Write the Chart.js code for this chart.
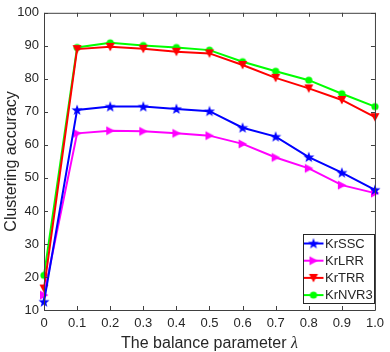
<!DOCTYPE html>
<html>
<head>
<meta charset="utf-8">
<script src="https://cdn.jsdelivr.net/npm/chart.js@4/dist/chart.umd.min.js"></script>
<style>
  html, body { margin: 0; padding: 0; background: #fff; }
  #wrap { width: 390px; height: 352px; }
</style>
</head>
<body>
<div id="wrap"><canvas id="chart" width="390" height="352"></canvas></div>
<script>
var lambdas = [0, 0.1, 0.2, 0.3, 0.4, 0.5, 0.6, 0.7, 0.8, 0.9, 1.0];
var xTickLabels = ['0', '0.1', '0.2', '0.3', '0.4', '0.5', '0.6', '0.7', '0.8', '0.9', '1.0'];
var yTicks = [10, 20, 30, 40, 50, 60, 70, 80, 90, 100];

var krSSC  = [12.5, 70.6, 71.6, 71.6, 70.9, 70.2, 65.2, 62.5, 56.3, 51.6, 46.4];
var krLRR  = [14.5, 63.5, 64.3, 64.1, 63.5, 62.8, 60.3, 56.2, 52.9, 47.8, 45.4];
var krTRR  = [16.5, 89.0, 89.7, 89.1, 88.2, 87.7, 84.2, 80.3, 77.1, 73.6, 68.4];
var krNVR3 = [20.5, 89.5, 90.9, 90.1, 89.5, 88.7, 85.2, 82.3, 79.6, 75.5, 71.6];

var axisColor = '#404040';
var textColor = '#262626';

// marker images (MATLAB style markers)
function makeMarker(kind, color) {
  var c = document.createElement('canvas');
  c.width = 12; c.height = 12;
  var g = c.getContext('2d');
  g.fillStyle = color;
  g.beginPath();
  if (kind === 'star') {
    for (var i = 0; i < 10; i++) {
      var r = i % 2 === 0 ? 5.8 : 2.4;
      var a = -Math.PI / 2 + i * Math.PI / 5;
      var px = 6 + r * Math.cos(a), py = 6.4 + r * Math.sin(a);
      if (i === 0) g.moveTo(px, py); else g.lineTo(px, py);
    }
  } else if (kind === 'right') {
    g.moveTo(2, 1.5); g.lineTo(10.5, 6); g.lineTo(2, 10.5);
  } else if (kind === 'down') {
    g.moveTo(1.5, 2); g.lineTo(10.5, 2); g.lineTo(6, 10.5);
  } else {
    g.arc(6, 6, 3.6, 0, Math.PI * 2);
  }
  g.closePath();
  g.fill();
  return c;
}

var series = [
  { label: 'KrSSC', data: krSSC, color: '#0000ff', marker: makeMarker('star', '#0000ff') },
  { label: 'KrLRR', data: krLRR, color: '#ff00ff', marker: makeMarker('right', '#ff00ff') },
  { label: 'KrTRR', data: krTRR, color: '#ff0000', marker: makeMarker('down', '#ff0000') },
  { label: 'KrNVR3', data: krNVR3, color: '#00ff00', marker: makeMarker('circle', '#00ff00') }
];

var datasets = series.map(function (s) {
  return {
    label: s.label,
    data: lambdas.map(function (x, i) { return { x: x, y: s.data[i] }; }),
    borderColor: s.color,
    backgroundColor: s.color,
    borderWidth: 2,
    pointStyle: s.marker,
    pointRadius: 5,
    tension: 0,
    fill: false,
    clip: false
  };
});

// box, inward ticks, legend, axis titles
var matlabAxes = {
  id: 'matlabAxes',
  afterDraw: function (chart) {
    var ctx = chart.ctx, a = chart.chartArea;
    var xs = chart.scales.x, ys = chart.scales.y;
    ctx.save();
    ctx.strokeStyle = axisColor;
    ctx.lineWidth = 1;
    ctx.beginPath();
    ctx.rect(a.left + 0.5, a.top + 0.5, a.right - a.left, a.bottom - a.top);
    lambdas.forEach(function (v) {
      var px = Math.round(xs.getPixelForValue(v)) + 0.5;
      ctx.moveTo(px, a.bottom); ctx.lineTo(px, a.bottom - 4);
      ctx.moveTo(px, a.top); ctx.lineTo(px, a.top + 4);
    });
    yTicks.forEach(function (v) {
      var py = Math.round(ys.getPixelForValue(v)) + 0.5;
      ctx.moveTo(a.left, py); ctx.lineTo(a.left + 4, py);
      ctx.moveTo(a.right, py); ctx.lineTo(a.right - 4, py);
    });
    ctx.stroke();

    // legend
    var bx = 303.5, by = 234.5, bw = 71, bh = 69;
    ctx.fillStyle = '#fff';
    ctx.fillRect(bx, by, bw, bh);
    ctx.strokeStyle = '#262626';
    ctx.strokeRect(bx, by, bw, bh);
    ctx.font = '13px "Liberation Sans", Arial, sans-serif';
    ctx.textBaseline = 'middle';
    series.forEach(function (s, i) {
      var cy = 243.5 + i * 17.2;
      ctx.strokeStyle = s.color;
      ctx.lineWidth = 2;
      ctx.beginPath();
      ctx.moveTo(bx + 0.5, cy); ctx.lineTo(bx + 20, cy);
      ctx.stroke();
      ctx.drawImage(s.marker, bx + 10 - 6, cy - 6);
      ctx.fillStyle = textColor;
      ctx.fillText(s.label, bx + 21.5, cy + 0.5);
    });

    // x axis title with italic lambda
    ctx.fillStyle = textColor;
    ctx.textBaseline = 'alphabetic';
    var t1 = 'The balance parameter ';
    ctx.font = '16px "Liberation Sans", Arial, sans-serif';
    var w1 = ctx.measureText(t1).width;
    ctx.font = 'italic 16px "Liberation Serif", serif';
    var w2 = ctx.measureText('λ').width;
    var sx = (a.left + a.right) / 2 - (w1 + w2) / 2;
    ctx.font = '16px "Liberation Sans", Arial, sans-serif';
    ctx.fillText(t1, sx, 348);
    ctx.font = 'italic 16px "Liberation Serif", serif';
    ctx.fillText('λ', sx + w1, 348);

    // y axis title
    ctx.translate(16, (a.top + a.bottom) / 2);
    ctx.rotate(-Math.PI / 2);
    ctx.textAlign = 'center';
    ctx.font = '16px "Liberation Sans", Arial, sans-serif';
    ctx.fillText('Clustering accuracy', 0, 0);
    ctx.restore();
  }
};

new Chart(document.getElementById('chart'), {
  type: 'line',
  data: { datasets: datasets },
  options: {
    responsive: false,
    animation: false,
    layout: { padding: { top: 7, right: 11, left: 0, bottom: 0 } },
    plugins: { legend: { display: false }, tooltip: { enabled: false } },
    scales: {
      x: {
        type: 'linear',
        min: 0, max: 1,
        afterBuildTicks: function (s) { s.ticks = lambdas.map(function (v) { return { value: v }; }); },
        afterFit: function (s) { s.height = 42; },
        ticks: {
          autoSkip: false,
          maxRotation: 0,
          padding: 6,
          color: textColor,
          font: { family: '"Liberation Sans", Arial, sans-serif', size: 13 },
          callback: function (v, i) { return xTickLabels[i]; }
        },
        grid: { display: false, drawTicks: false },
        border: { display: false }
      },
      y: {
        min: 10, max: 100,
        afterBuildTicks: function (s) { s.ticks = yTicks.map(function (v) { return { value: v }; }); },
        afterFit: function (s) { s.width = 44; },
        ticks: {
          padding: 5,
          color: textColor,
          font: { family: '"Liberation Sans", Arial, sans-serif', size: 13 }
        },
        grid: { display: false, drawTicks: false },
        border: { display: false }
      }
    }
  },
  plugins: [matlabAxes]
});
</script>
</body>
</html>
